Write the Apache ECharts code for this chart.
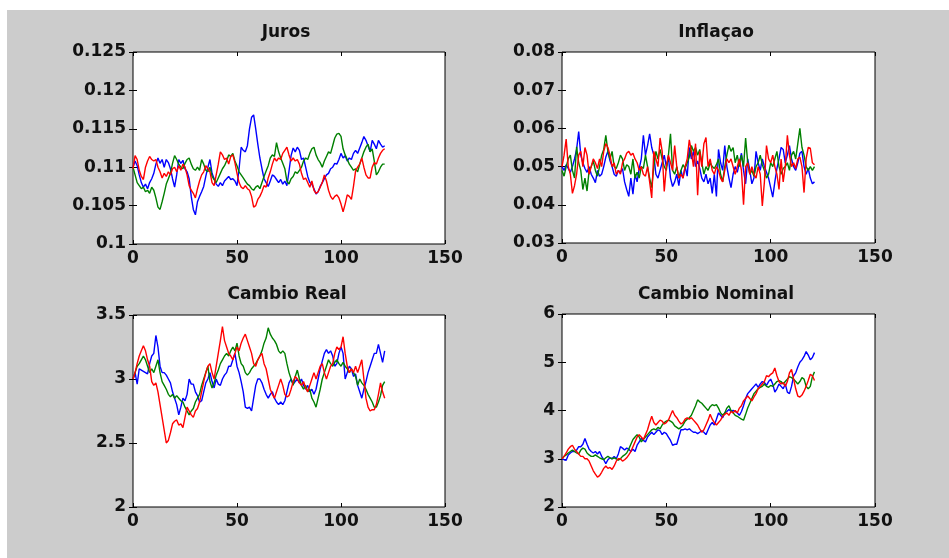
<!DOCTYPE html>
<html><head><meta charset="utf-8">
<script src="https://cdn.jsdelivr.net/npm/echarts@6/dist/echarts.min.js"></script>
<style>
html,body{margin:0;padding:0;background:#fff;}
#bg{position:absolute;left:7px;top:10px;width:942px;height:548px;background:#cccccc;}
#c{position:absolute;left:0;top:0;width:949px;height:558px;}
</style>
</head><body><div id="bg"></div><div id="c"></div>
<script>
const titles = ['Juros', 'Inflaçao', 'Cambio Real', 'Cambio Nominal'];
const xTicks = [0, 50, 100, 150];
const jurosTicks = [0.1, 0.105, 0.11, 0.115, 0.12, 0.125];
const inflTicks = [0.03, 0.04, 0.05, 0.06, 0.07, 0.08];
const realTicks = [2, 2.5, 3, 3.5];
const nomTicks = [2, 3, 4, 5, 6];

const jurosBlue = [0.1100,0.1108,0.1102,0.1090,0.1080,0.1074,0.1078,0.1072,0.1080,0.1085,
0.1092,0.1104,0.1112,0.1105,0.1110,0.1100,0.1110,0.1106,0.1098,0.1085,
0.1074,0.1090,0.1110,0.1105,0.1109,0.1098,0.1094,0.1085,0.1062,0.1045,
0.1038,0.1055,0.1062,0.1068,0.1075,0.1088,0.1100,0.1110,0.1092,0.1085,
0.1078,0.1075,0.1080,0.1076,0.1082,0.1085,0.1088,0.1084,0.1085,0.1082,
0.1076,0.1098,0.1126,0.1122,0.1120,0.1128,0.1150,0.1165,0.1168,0.1150,
0.1130,0.1112,0.1098,0.1085,0.1080,0.1075,0.1082,0.1090,0.1088,0.1084,
0.1080,0.1084,0.1078,0.1082,0.1076,0.1095,0.1115,0.1125,0.1120,0.1126,
0.1122,0.1110,0.1112,0.1100,0.1088,0.1080,0.1078,0.1072,0.1065,0.1068,
0.1075,0.1080,0.1085,0.1090,0.1092,0.1098,0.1100,0.1105,0.1104,0.1110,
0.1118,0.1112,0.1115,0.1108,0.1112,0.1110,0.1118,0.1122,0.1118,0.1125,
0.1132,0.1140,0.1135,0.1128,0.1120,0.1135,0.1130,0.1124,0.1135,0.1130,
0.1126,0.1128];
const jurosGreen = [0.1100,0.1090,0.1080,0.1076,0.1072,0.1074,0.1068,0.1070,0.1066,0.1074,
0.1070,0.1060,0.1048,0.1045,0.1055,0.1066,0.1078,0.1085,0.1092,0.1105,
0.1115,0.1110,0.1104,0.1100,0.1098,0.1105,0.1110,0.1112,0.1104,0.1098,
0.1096,0.1100,0.1096,0.1110,0.1104,0.1096,0.1094,0.1100,0.1088,0.1084,
0.1080,0.1086,0.1092,0.1098,0.1102,0.1108,0.1116,0.1114,0.1118,0.1108,
0.1102,0.1094,0.1090,0.1086,0.1082,0.1078,0.1076,0.1072,0.1070,0.1074,
0.1076,0.1072,0.1080,0.1088,0.1095,0.1102,0.1112,0.1116,0.1114,0.1132,
0.1120,0.1112,0.1105,0.1098,0.1082,0.1078,0.1085,0.1088,0.1094,0.1092,
0.1096,0.1100,0.1108,0.1112,0.1110,0.1118,0.1124,0.1126,0.1116,0.1110,
0.1106,0.1100,0.1108,0.1114,0.1120,0.1118,0.1128,0.1138,0.1143,0.1144,
0.1140,0.1124,0.1116,0.1110,0.1104,0.1100,0.1096,0.1098,0.1094,0.1104,
0.1112,0.1120,0.1126,0.1130,0.1120,0.1124,0.1108,0.1090,0.1094,0.1100,
0.1104,0.1104];
const jurosRed = [0.1098,0.1115,0.1110,0.1096,0.1088,0.1084,0.1100,0.1108,0.1114,0.1110,
0.1108,0.1110,0.1100,0.1094,0.1086,0.1092,0.1088,0.1094,0.1090,0.1098,
0.1100,0.1094,0.1102,0.1096,0.1104,0.1100,0.1090,0.1076,0.1070,0.1066,
0.1060,0.1072,0.1082,0.1090,0.1094,0.1102,0.1098,0.1094,0.1080,0.1076,
0.1090,0.1104,0.1120,0.1116,0.1110,0.1112,0.1104,0.1114,0.1116,0.1106,
0.1092,0.1080,0.1074,0.1072,0.1076,0.1072,0.1070,0.1062,0.1048,0.1050,
0.1058,0.1062,0.1068,0.1076,0.1074,0.1086,0.1094,0.1104,0.1112,0.1108,
0.1112,0.1110,0.1118,0.1122,0.1126,0.1116,0.1108,0.1112,0.1108,0.1110,
0.1104,0.1092,0.1084,0.1086,0.1080,0.1074,0.1082,0.1070,0.1066,0.1068,
0.1074,0.1080,0.1090,0.1082,0.1070,0.1062,0.1058,0.1062,0.1064,0.1060,
0.1052,0.1042,0.1052,0.1064,0.1062,0.1058,0.1075,0.1095,0.1100,0.1104,
0.1112,0.1100,0.1090,0.1086,0.1086,0.1100,0.1106,0.1104,0.1112,0.1118,
0.1122,0.1124];

const inflBlue = [0.0500,0.0490,0.0505,0.0495,0.0485,0.0500,0.0520,0.0545,0.0592,0.0530,
0.0510,0.0495,0.0485,0.0500,0.0480,0.0470,0.0458,0.0490,0.0475,0.0480,
0.0500,0.0525,0.0540,0.0515,0.0500,0.0480,0.0475,0.0490,0.0485,0.0495,
0.0460,0.0440,0.0422,0.0470,0.0428,0.0480,0.0460,0.0495,0.0520,0.0582,
0.0530,0.0555,0.0586,0.0550,0.0530,0.0480,0.0470,0.0490,0.0510,0.0530,
0.0500,0.0525,0.0470,0.0448,0.0460,0.0480,0.0450,0.0490,0.0470,0.0500,
0.0475,0.0550,0.0520,0.0540,0.0500,0.0515,0.0495,0.0470,0.0460,0.0480,
0.0455,0.0470,0.0430,0.0480,0.0422,0.0545,0.0510,0.0490,0.0555,0.0500,
0.0470,0.0445,0.0480,0.0500,0.0485,0.0510,0.0535,0.0490,0.0455,0.0520,
0.0490,0.0455,0.0470,0.0540,0.0510,0.0490,0.0520,0.0500,0.0485,0.0470,
0.0445,0.0420,0.0460,0.0495,0.0520,0.0550,0.0545,0.0510,0.0530,0.0555,
0.0520,0.0500,0.0490,0.0510,0.0535,0.0540,0.0500,0.0480,0.0495,0.0470,
0.0455,0.0460];
const inflGreen = [0.0490,0.0475,0.0500,0.0520,0.0530,0.0490,0.0470,0.0552,0.0510,0.0490,
0.0440,0.0470,0.0436,0.0490,0.0500,0.0515,0.0490,0.0475,0.0500,0.0530,
0.0545,0.0582,0.0540,0.0520,0.0540,0.0500,0.0495,0.0510,0.0530,0.0520,
0.0490,0.0505,0.0500,0.0480,0.0520,0.0470,0.0485,0.0470,0.0500,0.0495,
0.0530,0.0500,0.0470,0.0445,0.0500,0.0540,0.0520,0.0545,0.0520,0.0500,
0.0490,0.0530,0.0586,0.0490,0.0480,0.0500,0.0470,0.0490,0.0505,0.0495,
0.0510,0.0525,0.0555,0.0540,0.0550,0.0530,0.0545,0.0510,0.0480,0.0500,
0.0490,0.0510,0.0500,0.0495,0.0505,0.0520,0.0480,0.0460,0.0500,0.0530,
0.0556,0.0540,0.0550,0.0510,0.0530,0.0500,0.0530,0.0500,0.0575,0.0510,
0.0480,0.0490,0.0475,0.0500,0.0510,0.0530,0.0505,0.0490,0.0470,0.0480,
0.0510,0.0500,0.0520,0.0540,0.0500,0.0480,0.0495,0.0500,0.0510,0.0490,
0.0530,0.0540,0.0520,0.0560,0.0600,0.0550,0.0530,0.0500,0.0490,0.0500,
0.0490,0.0500];
const inflRed = [0.0500,0.0530,0.0572,0.0500,0.0480,0.0430,0.0450,0.0480,0.0530,0.0540,
0.0500,0.0550,0.0530,0.0480,0.0500,0.0520,0.0510,0.0495,0.0520,0.0500,
0.0540,0.0560,0.0550,0.0530,0.0500,0.0510,0.0480,0.0490,0.0480,0.0510,
0.0520,0.0535,0.0540,0.0530,0.0535,0.0520,0.0510,0.0490,0.0500,0.0480,
0.0475,0.0500,0.0460,0.0418,0.0540,0.0520,0.0500,0.0575,0.0540,0.0435,
0.0500,0.0530,0.0510,0.0490,0.0555,0.0500,0.0470,0.0480,0.0470,0.0500,
0.0520,0.0570,0.0540,0.0500,0.0560,0.0425,0.0540,0.0500,0.0560,0.0576,
0.0500,0.0520,0.0490,0.0480,0.0500,0.0490,0.0470,0.0460,0.0490,0.0520,
0.0510,0.0520,0.0500,0.0480,0.0500,0.0520,0.0490,0.0400,0.0500,0.0510,
0.0480,0.0500,0.0480,0.0470,0.0500,0.0480,0.0397,0.0460,0.0555,0.0520,
0.0510,0.0530,0.0500,0.0480,0.0440,0.0520,0.0460,0.0500,0.0582,0.0530,
0.0500,0.0510,0.0495,0.0520,0.0525,0.0500,0.0432,0.0520,0.0550,0.0548,
0.0510,0.0505];

const realBlue = [3.00,3.05,2.96,3.08,3.07,3.06,3.05,3.04,3.12,3.18,
3.20,3.34,3.25,3.10,3.05,3.05,3.03,3.00,2.97,2.90,
2.85,2.80,2.72,2.78,2.85,2.83,2.88,3.00,2.96,2.96,
2.90,2.87,2.82,2.83,2.90,2.97,3.00,3.05,2.98,2.93,
3.00,2.96,2.95,3.00,3.03,3.05,3.10,3.10,3.15,3.20,
3.10,3.05,2.98,2.90,2.78,2.77,2.78,2.75,2.85,2.95,
3.00,3.00,2.97,2.92,2.88,2.85,2.88,2.90,2.85,2.82,
2.80,2.82,2.80,2.83,2.90,2.97,3.00,2.96,2.98,3.00,
2.97,3.00,2.95,2.92,2.95,2.90,2.92,2.88,2.92,3.00,
3.08,3.14,3.20,3.23,3.20,3.22,3.18,3.10,3.12,3.20,
3.25,3.20,3.00,3.05,3.10,3.08,3.02,3.04,2.95,2.90,
2.85,2.92,2.98,3.05,3.10,3.15,3.20,3.20,3.27,3.20,
3.13,3.22];
const realGreen = [3.00,3.05,3.10,3.12,3.15,3.18,3.15,3.10,3.05,3.08,
3.05,3.10,3.15,3.05,2.98,2.95,2.92,2.88,2.86,2.88,
2.85,2.87,2.85,2.83,2.82,2.78,2.75,2.72,2.75,2.77,
2.82,2.85,2.88,2.95,3.00,3.05,3.10,2.98,2.93,2.97,
3.03,3.07,3.12,3.15,3.18,3.20,3.18,3.22,3.25,3.22,
3.28,3.18,3.12,3.10,3.05,3.03,3.05,3.08,3.10,3.12,
3.15,3.18,3.22,3.28,3.32,3.40,3.35,3.32,3.30,3.27,
3.22,3.20,3.22,3.20,3.12,3.05,3.00,2.95,3.02,3.07,
3.00,2.95,2.92,2.95,2.90,2.92,2.85,2.82,2.78,2.85,
2.92,3.00,3.05,3.10,3.15,3.12,3.10,3.13,3.15,3.12,
3.10,3.13,3.10,3.08,3.05,3.08,3.05,3.02,2.95,3.00,
2.97,2.95,2.92,2.88,2.85,2.82,2.78,2.78,2.82,2.87,
2.95,2.98];
const realRed = [3.00,3.05,3.12,3.18,3.22,3.26,3.22,3.15,3.10,2.98,
2.95,2.97,2.90,2.80,2.70,2.60,2.50,2.52,2.58,2.65,
2.67,2.68,2.64,2.65,2.62,2.70,2.78,2.75,2.72,2.70,
2.75,2.77,2.82,2.90,2.98,3.05,3.10,3.12,3.05,3.00,
3.10,3.20,3.30,3.41,3.30,3.25,3.20,3.18,3.15,3.20,
3.25,3.22,3.28,3.32,3.35,3.30,3.25,3.20,3.12,3.10,
3.15,3.18,3.20,3.12,3.08,3.00,2.92,2.88,2.85,2.90,
2.95,3.00,2.95,2.88,2.86,2.87,2.92,2.98,3.02,3.00,
2.97,2.95,2.98,2.93,2.90,2.95,3.00,3.05,3.00,3.05,
3.10,3.12,3.05,3.00,3.05,3.10,3.12,3.20,3.25,3.23,
3.25,3.33,3.20,3.10,3.05,3.08,3.05,3.10,3.05,3.10,
3.15,3.00,2.85,2.78,2.75,2.76,2.76,2.80,2.88,2.97,
2.90,2.85];

const nomBlue = [3.00,2.98,2.97,3.08,3.12,3.15,3.15,3.18,3.25,3.25,
3.30,3.42,3.30,3.20,3.15,3.12,3.15,3.10,3.15,3.05,
2.98,2.90,2.98,3.02,3.00,3.05,3.00,3.10,3.25,3.22,
3.18,3.22,3.20,3.15,3.20,3.15,3.28,3.35,3.42,3.38,
3.35,3.45,3.50,3.55,3.50,3.55,3.60,3.58,3.50,3.55,
3.52,3.45,3.38,3.28,3.30,3.30,3.45,3.60,3.60,3.62,
3.60,3.62,3.58,3.55,3.55,3.52,3.55,3.58,3.55,3.50,
3.60,3.70,3.75,3.70,3.82,3.95,3.90,3.85,3.95,3.98,
4.02,3.98,4.00,3.98,3.95,3.90,3.98,4.10,4.25,4.35,
4.40,4.45,4.50,4.55,4.48,4.55,4.60,4.58,4.52,4.60,
4.65,4.55,4.38,4.45,4.55,4.50,4.45,4.55,4.38,4.35,
4.50,4.72,4.78,4.90,5.00,5.05,5.12,5.22,5.15,5.05,
5.10,5.20];
const nomGreen = [3.00,3.05,3.08,3.12,3.15,3.18,3.15,3.12,3.10,3.18,
3.22,3.20,3.12,3.08,3.05,3.05,3.08,3.05,3.02,3.00,
2.98,3.02,3.05,3.02,3.00,3.02,3.00,2.97,3.00,3.05,
3.08,3.12,3.20,3.30,3.40,3.45,3.50,3.45,3.35,3.40,
3.45,3.50,3.55,3.60,3.62,3.60,3.65,3.62,3.70,3.75,
3.78,3.80,3.78,3.75,3.68,3.65,3.62,3.65,3.70,3.78,
3.82,3.85,3.90,4.00,4.10,4.22,4.18,4.15,4.10,4.05,
4.00,4.08,4.12,4.10,4.12,4.05,3.95,3.90,3.95,4.05,
4.10,4.00,3.95,3.90,3.88,3.85,3.82,3.80,3.92,4.05,
4.15,4.25,4.35,4.40,4.45,4.48,4.50,4.55,4.50,4.48,
4.52,4.50,4.55,4.60,4.62,4.60,4.55,4.60,4.65,4.70,
4.68,4.65,4.60,4.55,4.60,4.68,4.65,4.50,4.45,4.50,
4.70,4.80];
const nomRed = [3.00,3.05,3.12,3.20,3.25,3.28,3.20,3.15,3.10,3.05,
3.05,3.00,3.00,2.95,2.85,2.75,2.68,2.62,2.65,2.72,
2.80,2.85,2.80,2.82,2.78,2.85,2.95,3.00,3.00,2.95,
2.98,3.02,3.08,3.15,3.25,3.35,3.45,3.50,3.45,3.40,
3.50,3.60,3.75,3.88,3.75,3.70,3.75,3.80,3.78,3.72,
3.75,3.80,3.90,4.00,3.90,3.85,3.78,3.72,3.75,3.82,
3.85,3.82,3.85,3.80,3.75,3.70,3.62,3.55,3.60,3.70,
3.80,3.92,3.82,3.75,3.70,3.75,3.80,3.88,3.92,3.95,
3.90,3.98,3.95,4.00,3.95,4.05,4.10,4.20,4.25,4.30,
4.25,4.20,4.28,4.35,4.45,4.50,4.55,4.60,4.72,4.70,
4.75,4.78,4.88,4.72,4.60,4.55,4.58,4.50,4.60,4.78,
4.85,4.65,4.45,4.30,4.28,4.32,4.40,4.50,4.62,4.75,
4.72,4.62];

const panels = [
  {title: titles[0], ticks: jurosTicks, data: [jurosBlue, jurosGreen, jurosRed]},
  {title: titles[1], ticks: inflTicks, data: [inflBlue, inflGreen, inflRed]},
  {title: titles[2], ticks: realTicks, data: [realBlue, realGreen, realRed]},
  {title: titles[3], ticks: nomTicks, data: [nomBlue, nomGreen, nomRed]}
];
const colors = ['#0000ff', '#008000', '#ff0000'];
const grids = [
  {left: 133, top: 52, width: 312, height: 192},
  {left: 562, top: 52, width: 313, height: 191},
  {left: 133, top: 315, width: 312, height: 192},
  {left: 562, top: 314, width: 313, height: 193}
];
const titlePos = [[286, 33], [716, 33], [287, 295], [716, 295]];
const FONT = 'DejaVu Sans';
const TXT = '#111111';
const fmt = v => String(parseFloat(Number(v).toFixed(4)));

const option = {
  animation: false,
  backgroundColor: 'transparent',
  grid: grids.map(g => Object.assign({}, g, {show: true, backgroundColor: '#ffffff', borderColor: '#000000', borderWidth: 1, containLabel: false, outerBoundsMode: 'none'})),
  xAxis: [], yAxis: [], series: [], graphic: []
};

panels.forEach((p, i) => {
  const xmin = xTicks[0], xmax = xTicks[xTicks.length - 1];
  const xint = xTicks[1] - xTicks[0];
  const ymin = p.ticks[0], ymax = p.ticks[p.ticks.length - 1];
  const yint = Math.round((p.ticks[1] - p.ticks[0]) * 1e6) / 1e6;
  const tick = {show: true, inside: true, length: 4, lineStyle: {color: '#000', width: 1}};
  const lab = {show: true, fontFamily: FONT, fontSize: 17, fontWeight: 'bold', color: TXT, formatter: fmt};
  ['bottom', 'top'].forEach(pos => {
    option.xAxis.push({
      type: 'value', gridIndex: i, position: pos, min: xmin, max: xmax, interval: xint,
      axisLine: {show: false}, axisTick: tick, splitLine: {show: false},
      axisLabel: pos === 'bottom' ? Object.assign({margin: 6}, lab) : {show: false}
    });
  });
  ['left', 'right'].forEach(pos => {
    option.yAxis.push({
      type: 'value', gridIndex: i, position: pos, min: ymin, max: ymax, interval: yint,
      axisLine: {show: false}, axisTick: tick, splitLine: {show: false},
      axisLabel: pos === 'left' ? Object.assign({margin: 7}, lab) : {show: false}
    });
  });
  p.data.forEach((arr, s) => {
    option.series.push({
      type: 'line', xAxisIndex: 2 * i, yAxisIndex: 2 * i,
      data: arr.map((v, k) => [k, v]),
      symbol: 'none', showSymbol: false, smooth: false,
      lineStyle: {color: colors[s], width: 1.4},
      itemStyle: {color: colors[s]},
      z: 2 + s
    });
  });
  option.graphic.push({
    type: 'text', x: titlePos[i][0], y: titlePos[i][1], z: 10,
    style: {text: p.title, font: 'bold 17px "' + FONT + '"', fill: TXT, align: 'center', verticalAlign: 'middle'}
  });
});

const chart = echarts.init(document.getElementById('c'), null, {renderer: 'canvas'});
chart.setOption(option);
</script>
</body></html>
